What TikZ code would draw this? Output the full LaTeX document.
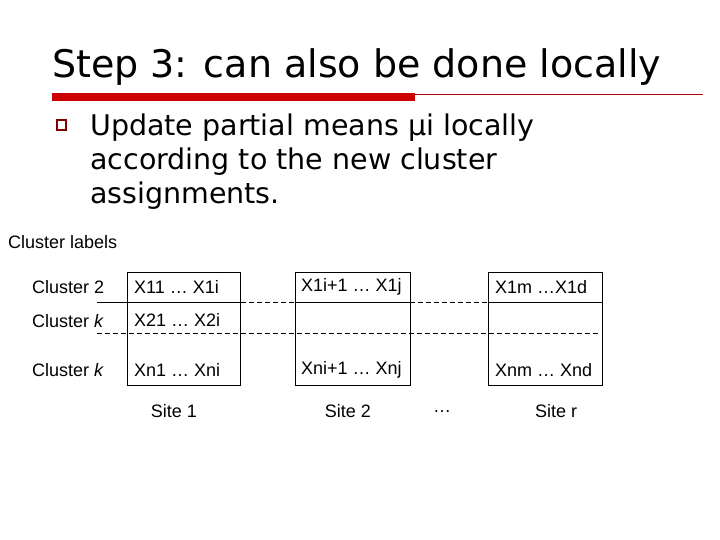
\documentclass[tikz,border=0pt]{standalone}
\usepackage{fontspec}
\setmainfont{Liberation Sans}
\newfontfamily\titlefont{DejaVu Sans}
\begin{document}
\begin{tikzpicture}[x=1pt,y=-1pt,
  cell/.style={font=\fontsize{18}{20}\selectfont,anchor=west,inner sep=0pt},
  site/.style={draw,line width=0.9pt},
  solidline/.style={line width=0.9pt},
  dashline/.style={dash pattern=on 5pt off 3pt,line width=0.9pt}]
\useasboundingbox[fill=white] (0,0) rectangle (720,540);
\node[anchor=west,inner sep=0pt,font=\titlefont\fontsize{38}{44}\selectfont] (title) at (52,67) {Step 3: can also be done locally};
\fill[red!80!black] (52,93) rectangle (415,101);
\draw[red!70!black,line width=0.8pt] (415,94) -- (703,94);
\draw[red!50!black,line width=1.5pt] (57,120) rectangle (66,130);
\node[anchor=north west,inner sep=0pt,align=left,font=\titlefont\fontsize{28.5}{34}\selectfont] (body) at (90,114) {Update partial means µi locally\\according to the new cluster\\assignments.};
\node[cell,anchor=west] (cl) at (8,242) {Cluster labels};
\node[site,minimum width=113,minimum height=113,inner sep=0pt] (s1) at (184,328.5) {};
\node[site,minimum width=115,minimum height=113,inner sep=0pt] (s2) at (352.5,328.5) {};
\node[site,minimum width=114,minimum height=113,inner sep=0pt] (s3) at (545,328.5) {};
\node[cell] (c1) at (32,287) {Cluster 2};
\node[cell] (c2) at (32,321) {Cluster \textit{k}};
\node[cell] (c3) at (32,370) {Cluster \textit{k}};
\node[cell] (a1) at (134,287) {X11 … X1i};
\node[cell] (a2) at (134,320) {X21 … X2i};
\node[cell] (a3) at (134,370) {Xn1 … Xni};
\node[cell] (b1) at (301,287) {X1i+1 … X1j};
\node[cell] (b3) at (301,370) {Xni+1 … Xnj};
\node[cell] (d1) at (495,287) {X1m …X1d};
\node[cell] (d3) at (495,370) {Xnm … Xnd};
\node[cell,anchor=center] (t1) at (174,411) {Site 1};
\node[cell,anchor=center] (t2) at (348,411) {Site 2};
\node[cell,anchor=center] (t0) at (442,412) {…};
\node[cell,anchor=center] (t3) at (556,411) {Site r};
\coordinate (l1) at (97,302);
\coordinate (l2) at (97,333);
\coordinate (r2) at (600,333);
\draw[solidline] (l1) -- (s1.east |- l1);
\draw[dashline] (s1.east |- l1) -- (s2.west |- l1);
\draw[solidline] (s2.west |- l1) -- (s2.east |- l1);
\draw[dashline] (s2.east |- l1) -- (s3.west |- l1);
\draw[solidline] (s3.west |- l1) -- (s3.east |- l1);
\draw[dashline] (l2) -- (r2);
\end{tikzpicture}
\end{document}
